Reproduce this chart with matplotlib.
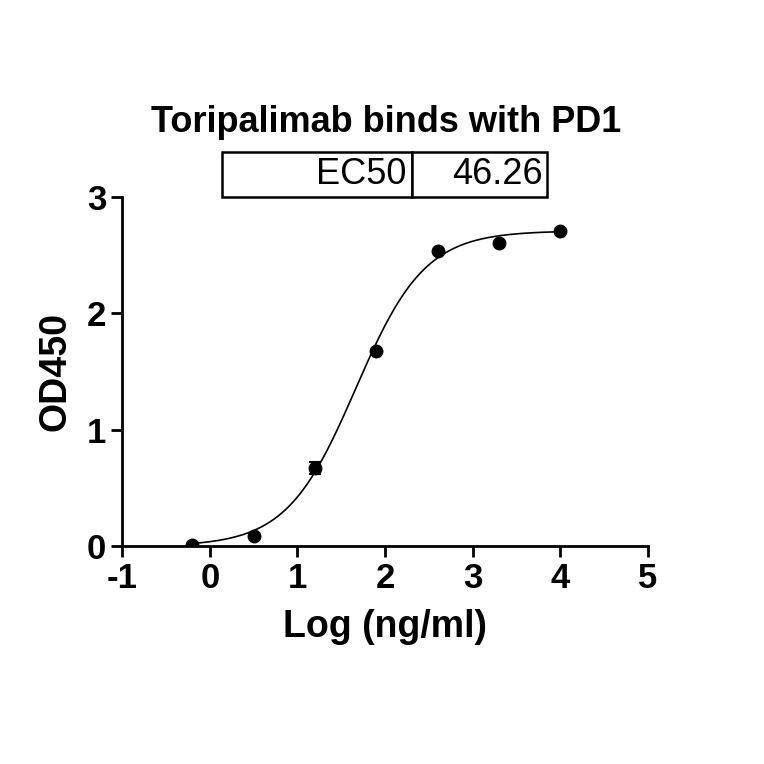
import numpy as np
import matplotlib.pyplot as plt

plt.rcParams['font.family'] = ['Liberation Sans', 'DejaVu Sans']
plt.rcParams['axes.unicode_minus'] = False

# measured points
log_conc = [-0.2, 0.5, 1.2, 1.9, 2.6, 3.3, 4.0]
od450 = [0.01, 0.09, 0.67, 1.68, 2.54, 2.61, 2.71]
od_err = [0.0, 0.0, 0.05, 0.0, 0.0, 0.0, 0.0]

# 4PL fit parameters
ec50 = 46.26
bottom, top, hill = 0.0, 2.71, 1.1

fig = plt.figure(figsize=(7.64, 7.64), dpi=100)
ax = fig.add_axes([0.16, 0.285, 0.688, 0.457])

xf = np.linspace(-0.2, 4.0, 300)
yf = bottom + (top - bottom) / (1 + 10 ** (hill * (np.log10(ec50) - xf)))
ax.plot(xf, yf, color='black', lw=1.2)
ax.errorbar(log_conc, od450, yerr=od_err, fmt='o', color='black', ms=9,
            capsize=4, elinewidth=1.5, capthick=1.5)

ax.set_xlim(-1, 5)
ax.set_ylim(0, 3)
ax.spines['top'].set_visible(False)
ax.spines['right'].set_visible(False)
for s in ('left', 'bottom'):
    ax.spines[s].set_linewidth(2)
ax.tick_params(width=2, length=8, labelsize=25)
for t in ax.get_xticklabels() + ax.get_yticklabels():
    t.set_fontweight('bold')
ax.set_xticks(range(-1, 6))
ax.set_yticks([0, 1, 2, 3])
ax.set_xlabel('Log (ng/ml)', fontsize=27, fontweight='bold', labelpad=10)
ax.set_ylabel('OD450', fontsize=27, fontweight='bold', labelpad=10)

fig.text(0.505, 0.84, 'Toripalimab binds with PD1', ha='center', va='center',
         fontsize=26, fontweight='bold')

# EC50 table box
tab = ax.table(cellText=[['EC50', f'{ec50:.2f}']], cellLoc='right',
               bbox=[0.19, 1.0, 0.618, 0.128], colWidths=[0.585, 0.415])
tab.auto_set_font_size(False)
for (r, c), cell in tab.get_celld().items():
    cell.set_linewidth(1.8)
    cell.get_text().set_fontsize(26)
    cell.PAD = 0.03

fig.savefig('out.png', dpi=100)
